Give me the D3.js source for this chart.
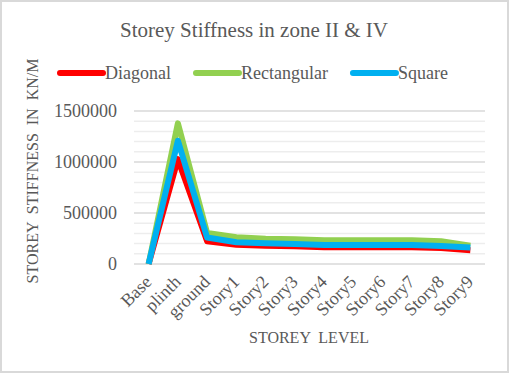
<!DOCTYPE html>
<html>
<head>
<meta charset="utf-8">
<script src="https://d3js.org/d3.v7.min.js"></script>
<style>
  body { margin: 0; background: #fff; }
  svg text { font-family: "Liberation Serif", "DejaVu Serif", serif !important; fill: #595959; }
</style>
</head>
<body>
<div id="chart"></div>
<script>

var categories = ['Base', 'plinth', 'ground', 'Story1', 'Story2', 'Story3', 'Story4', 'Story5', 'Story6', 'Story7', 'Story8', 'Story9']
var diagonal = [0, 1028000, 222000, 189000, 179000, 173000, 164000, 164000, 164000, 164000, 157000, 134000]
var rectangular = [0, 1379000, 304000, 262000, 248000, 243000, 233000, 233000, 233000, 233000, 224000, 180000]
var square = [0, 1209000, 259000, 213000, 203000, 197000, 187000, 187000, 187000, 187000, 177000, 161000]
var seriesNames = ['Diagonal', 'Rectangular', 'Square']
var seriesColors = ['#ff0000', '#92d050', '#00b0f0']
var yTicks = [0, 500000, 1000000, 1500000]

var W = 509, H = 373
var margin = { top: 111, right: 24, bottom: 109, left: 134 }
var serif = '"Liberation Serif", "DejaVu Serif", serif'

var svg = d3.select('#chart')
  .append('svg')
  .attr('width', W)
  .attr('height', H)
  .style('font-family', serif)

// chart frame
svg.append('rect')
  .attr('x', 1)
  .attr('y', 1)
  .attr('width', W - 2)
  .attr('height', H - 2)
  .attr('fill', '#fff')
  .attr('stroke', '#d9d9d9')
  .attr('stroke-width', 2)

var x = d3.scalePoint()
  .domain(categories)
  .range([margin.left, W - margin.right])
  .padding(0.5)

var y = d3.scaleLinear()
  .domain([0, 1500000])
  .range([H - margin.bottom, margin.top])

// gridlines, major every 500000 and minor every 100000
svg.append('g')
  .selectAll('line')
  .data(d3.range(0, 1500001, 100000))
  .enter().append('line')
  .attr('x1', margin.left)
  .attr('x2', W - margin.right)
  .attr('y1', function(d) { return y(d) })
  .attr('y2', function(d) { return y(d) })
  .attr('stroke', function(d) { return d % 500000 === 0 ? '#d9d9d9' : '#ededed' })
  .attr('stroke-width', 1.5)

// y axis labels
var yAxis = d3.axisLeft(y)
  .tickValues(yTicks)
  .tickSize(0)
  .tickPadding(0)
  .tickFormat(d3.format('d'))

svg.append('g')
  .attr('transform', 'translate(117,0)')
  .call(yAxis)
  .call(function(g) { g.select('.domain').remove() })
  .attr('font-family', null)
  .attr('font-size', null)
  .selectAll('text')
  .style('font-family', serif)
  .style('font-size', '18px')
  .attr('fill', '#595959')

// x axis labels
svg.append('g')
  .selectAll('text')
  .data(categories)
  .enter().append('text')
  .attr('transform', function(d) { return 'translate(' + (x(d) + 4) + ',' + (H - margin.bottom + 19) + ') rotate(-45)' })
  .attr('text-anchor', 'end')
  .style('font-family', serif)
  .style('font-size', '18px')
  .text(function(d) { return d })

// lines
var line = d3.line()
  .x(function(d, i) { return x(categories[i]) })
  .y(function(d) { return y(d) })

var allSeries = [diagonal, rectangular, square]

svg.append('g')
  .selectAll('path')
  .data(allSeries)
  .enter().append('path')
  .attr('d', line)
  .attr('fill', 'none')
  .attr('stroke', function(d, i) { return seriesColors[i] })
  .attr('stroke-width', 6)
  .attr('stroke-linejoin', 'round')

// title
svg.append('text')
  .attr('x', 254)
  .attr('y', 37)
  .attr('text-anchor', 'middle')
  .style('font-size', '21px')
  .text('Storey Stiffness in zone II & IV')

// axis titles
svg.append('text')
  .attr('x', 309)
  .attr('y', 343)
  .attr('text-anchor', 'middle')
  .style('font-size', '16px')
  .attr('word-spacing', 4)
  .text('STOREY LEVEL')

svg.append('text')
  .attr('transform', 'translate(38,171) rotate(-90)')
  .attr('text-anchor', 'middle')
  .style('font-size', '16px')
  .attr('word-spacing', 4)
  .text('STOREY STIFFNESS IN KN/M')

// legend
var legend = svg.append('g')
  .attr('transform', 'translate(58,73)')
var lx = 0
seriesNames.forEach(function(name, i) {
  var item = legend.append('g').attr('transform', 'translate(' + lx + ',0)')
  item.append('line')
    .attr('x1', 2)
    .attr('x2', 45)
    .attr('y1', 0)
    .attr('y2', 0)
    .attr('stroke', seriesColors[i])
    .attr('stroke-width', 6)
    .attr('stroke-linecap', 'round')
  var t = item.append('text')
    .attr('x', 47)
    .attr('y', 6)
    .style('font-size', '18px')
    .text(name)
  lx += 47 + t.node().getComputedTextLength() + 23
})

</script>
</body>
</html>
